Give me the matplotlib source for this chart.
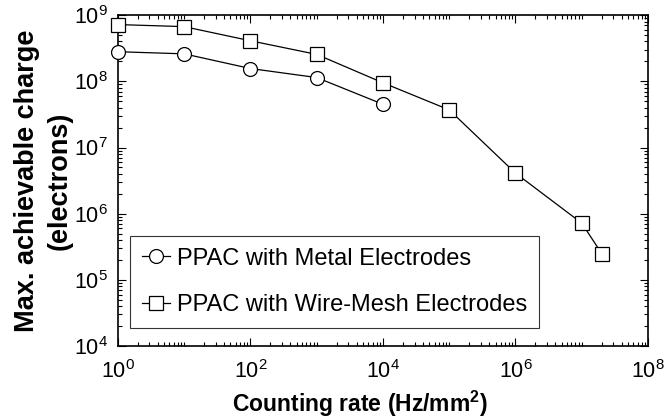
import numpy as np
import matplotlib
matplotlib.use('Agg')
import matplotlib.pyplot as plt
from matplotlib.ticker import LogLocator, NullFormatter

plt.rcParams['font.family'] = ['Liberation Sans', 'DejaVu Sans']
plt.rcParams['mathtext.fontset'] = 'custom'
plt.rcParams['mathtext.rm'] = 'Liberation Sans'
plt.rcParams['mathtext.it'] = 'Liberation Sans:italic'
plt.rcParams['mathtext.bf'] = 'Liberation Sans:bold'

# Data
rate_metal = [1, 10, 100, 1000, 1e4]
charge_metal = [2.8e8, 2.6e8, 1.56e8, 1.14e8, 4.5e7]

rate_mesh = [1, 10, 100, 1000, 1e4, 1e5, 1e6, 1e7, 2e7]
charge_mesh = [7.2e8, 6.7e8, 4.1e8, 2.55e8, 9.5e7, 3.7e7, 4.1e6, 7.2e5, 2.5e5]

label_metal = 'PPAC with Metal Electrodes'
label_mesh = 'PPAC with Wire-Mesh Electrodes'


def main():
    fig = plt.figure(figsize=(6.66, 4.2), dpi=100)
    ax = fig.add_axes([0.177, 0.176, 0.796, 0.788])

    ax.plot(rate_metal, charge_metal, 'k-', marker='o', markersize=10,
            markerfacecolor='white', markeredgewidth=0.9, linewidth=0.9,
            label=label_metal, clip_on=False, zorder=3)
    ax.plot(rate_mesh, charge_mesh, 'k-', marker='s', markersize=10,
            markerfacecolor='white', markeredgewidth=0.9, linewidth=0.9,
            label=label_mesh, clip_on=False, zorder=3)

    ax.set_xscale('log')
    ax.set_yscale('log')
    ax.set_xlim(1, 1e8)
    ax.set_ylim(1e4, 1e9)

    ax.set_xticks([1, 1e2, 1e4, 1e6, 1e8])
    ax.xaxis.set_minor_locator(LogLocator(base=10, subs=np.arange(1, 10), numticks=20))
    ax.xaxis.set_minor_formatter(NullFormatter())
    ax.yaxis.set_minor_locator(LogLocator(base=10, subs=np.arange(2, 10), numticks=20))
    ax.yaxis.set_minor_formatter(NullFormatter())

    ax.tick_params(which='both', direction='in', top=True, right=True,
                   labelsize=15.5, width=0.8)
    ax.tick_params(which='major', length=6, pad=7)
    ax.tick_params(axis='x', which='major', pad=10)
    ax.tick_params(which='minor', length=3)
    for s in ax.spines.values():
        s.set_linewidth(1.2)

    ax.set_xlabel('Counting rate (Hz/mm$^\\mathbf{2}$)', fontsize=16.5,
                  fontweight='bold')
    ax.xaxis.set_label_coords(0.4575, -0.13)
    ax.set_ylabel('Max. achievable charge\n(electrons)', fontsize=19.5,
                  fontweight='bold', linespacing=1.35)
    ax.yaxis.set_label_coords(-0.085, 0.5)

    leg = ax.legend(loc='lower left', bbox_to_anchor=(0.023, 0.054),
                    fontsize=17, frameon=True, fancybox=False,
                    edgecolor='black', handlelength=1.2, handletextpad=0.3,
                    borderpad=0.5, labelspacing=1.05, borderaxespad=0)
    leg.get_frame().set_linewidth(0.8)

    fig.savefig('out.png', dpi=100)


if __name__ == "__main__":
    main()
